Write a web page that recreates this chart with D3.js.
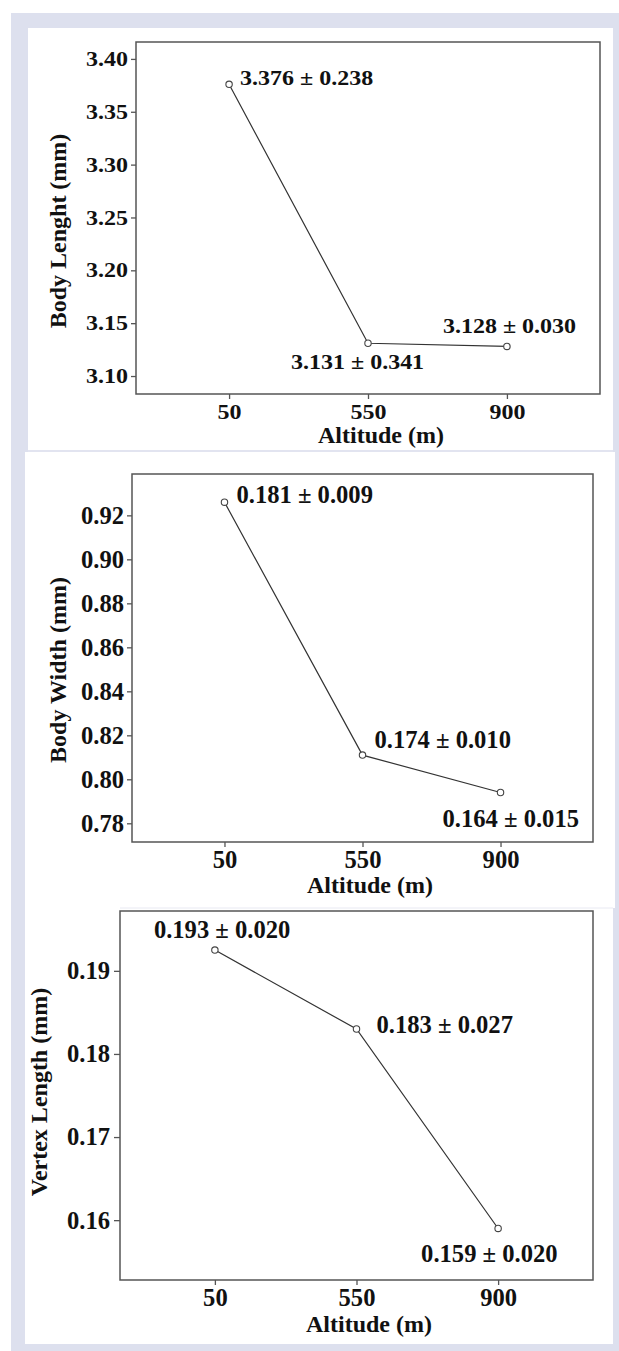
<!DOCTYPE html>
<html>
<head>
<meta charset="utf-8">
<script src="https://cdn.jsdelivr.net/npm/d3@7"></script>
<style>
  body { margin: 0; background: #fff; }
  svg text { font-family: "Liberation Serif", "Times New Roman", serif; font-weight: bold; fill: #111; }
  .squash { transform-box: fill-box; transform-origin: center; transform: scaleY(0.86); }
</style>
</head>
<body>
<div id="chart"></div>
<script>
//data
const altitudes = ["50", "550", "900"];

const bodyLength = [3.376, 3.131, 3.128];
const bodyLengthLabels = ["3.376 ± 0.238", "3.131 ± 0.341", "3.128 ± 0.030"];
const bodyLengthTicks = [3.10, 3.15, 3.20, 3.25, 3.30, 3.35, 3.40];
const bodyLengthDomain = [3.083, 3.416];

const bodyWidth = [0.926, 0.811, 0.794];
const bodyWidthLabels = ["0.181 ± 0.009", "0.174 ± 0.010", "0.164 ± 0.015"];
const bodyWidthTicks = [0.78, 0.80, 0.82, 0.84, 0.86, 0.88, 0.90, 0.92];
const bodyWidthDomain = [0.7715, 0.9388];

const vertexLength = [0.1925, 0.183, 0.159];
const vertexLengthLabels = ["0.193 ± 0.020", "0.183 ± 0.027", "0.159 ± 0.020"];
const vertexLengthTicks = [0.16, 0.17, 0.18, 0.19];
const vertexLengthDomain = [0.1528, 0.1972];

const width = 619;
const height = 1351;

const svg = d3.select("#chart")
  .append("svg")
  .attr("width", width)
  .attr("height", height);

//lavender page behind the three white panels
svg.append("rect")
  .attr("x", 11).attr("y", 13)
  .attr("width", width - 11).attr("height", height - 13)
  .attr("fill", "#dde0ee");

//panel layout (positions only, values come from arrays above)
const panels = [
  {
    values: bodyLength, labels: bodyLengthLabels, ticks: bodyLengthTicks, domain: bodyLengthDomain,
    fmt: ".2f", yTitle: "Body Lenght (mm)", fontSize: 24,
    bg: [28, 28, 585, 422], frame: [136, 42, 600, 394], tickSize: 5, tickPad: 3,
    xTitle: [381, 443], yTitle_pos: [66, 231], squash: true,
    offsets: [[11, 2], [-77, 27], [-64, -12]]
  },
  {
    values: bodyWidth, labels: bodyWidthLabels, ticks: bodyWidthTicks, domain: bodyWidthDomain,
    fmt: ".2f", yTitle: "Body Width (mm)", fontSize: 24.6,
    bg: [25, 452, 590, 456], frame: [132, 474, 593, 842], tickSize: 5, tickPad: 3,
    xTitle: [370, 893], yTitle_pos: [66, 670], squash: false,
    offsets: [[12, 1], [12, -7], [-58, 34]]
  },
  {
    values: vertexLength, labels: vertexLengthLabels, ticks: vertexLengthTicks, domain: vertexLengthDomain,
    fmt: ".2f", yTitle: "Vertex Length (mm)", fontSize: 24.6,
    bg: [25, 908, 588, 436], frame: [120, 911, 593, 1280], tickSize: 6, tickPad: 4,
    xTitle: [369, 1332], yTitle_pos: [47, 1092], squash: false,
    offsets: [[-61, -12], [20, 4], [-77, 34]]
  }
];

//white panels
panels.forEach(p => {
  svg.append("rect")
    .attr("x", p.bg[0]).attr("y", p.bg[1])
    .attr("width", p.bg[2]).attr("height", p.bg[3])
    .attr("fill", "#fff");
});
//faint separator lines between panels
svg.append("line").attr("x1", 28).attr("x2", 613).attr("y1", 451).attr("y2", 451)
  .attr("stroke", "#e2e4f0").attr("stroke-width", 2);
svg.append("line").attr("x1", 120).attr("x2", 613).attr("y1", 908).attr("y2", 908)
  .attr("stroke", "#e8e9f2").attr("stroke-width", 1);

panels.forEach(p => {
  const [left, top, right, bottom] = p.frame;
  const g = svg.append("g");

  const x = d3.scalePoint()
    .domain(altitudes)
    .range([left, right])
    .padding(0.67);

  const y = d3.scaleLinear()
    .domain(p.domain)
    .range([bottom, top]);

  //axes
  const yAxis = g.append("g")
    .attr("transform", `translate(${left},0)`)
    .call(d3.axisLeft(y).tickValues(p.ticks).tickFormat(d3.format(p.fmt))
      .tickSize(p.tickSize).tickPadding(p.tickPad));
  const xAxis = g.append("g")
    .attr("transform", `translate(0,${bottom})`)
    .call(d3.axisBottom(x).tickSize(5).tickPadding(4));

  [yAxis, xAxis].forEach(a => {
    a.select(".domain").remove();
    a.attr("font-family", null);
    a.selectAll("line").attr("stroke", "#555").attr("stroke-width", 1.3);
    a.selectAll("text").attr("font-size", p.fontSize).attr("fill", "#111");
  });

  //frame box
  g.append("rect")
    .attr("x", left).attr("y", top)
    .attr("width", right - left).attr("height", bottom - top)
    .attr("fill", "none")
    .attr("stroke", "#555")
    .attr("stroke-width", 1.5);

  const pts = altitudes.map((a, i) => ({ alt: a, v: p.values[i], label: p.labels[i], off: p.offsets[i] }));

  //line through the means
  g.append("path")
    .datum(pts)
    .attr("fill", "none")
    .attr("stroke", "#333")
    .attr("stroke-width", 1.2)
    .attr("d", d3.line().x(d => x(d.alt)).y(d => y(d.v)));

  g.selectAll(".pt")
    .data(pts)
    .enter()
    .append("circle")
    .attr("class", "pt")
    .attr("cx", d => x(d.alt))
    .attr("cy", d => y(d.v))
    .attr("r", 3.2)
    .attr("fill", "#fff")
    .attr("stroke", "#444")
    .attr("stroke-width", 1.1);

  //mean ± sd labels
  g.selectAll(".lbl")
    .data(pts)
    .enter()
    .append("text")
    .attr("class", "lbl")
    .attr("x", d => x(d.alt) + d.off[0])
    .attr("y", d => y(d.v) + d.off[1])
    .attr("font-size", p.fontSize)
    .text(d => d.label);

  //axis titles
  g.append("text")
    .attr("x", p.xTitle[0])
    .attr("y", p.xTitle[1])
    .attr("text-anchor", "middle")
    .attr("font-size", 24)
    .text("Altitude (m)");

  g.append("text")
    .attr("transform", `translate(${p.yTitle_pos[0]},${p.yTitle_pos[1]}) rotate(-90)`)
    .attr("text-anchor", "middle")
    .attr("font-size", 24)
    .text(p.yTitle);

  if (p.squash) {
    g.selectAll(".tick text, .lbl").classed("squash", true);
  }
});
</script>
</body>
</html>
